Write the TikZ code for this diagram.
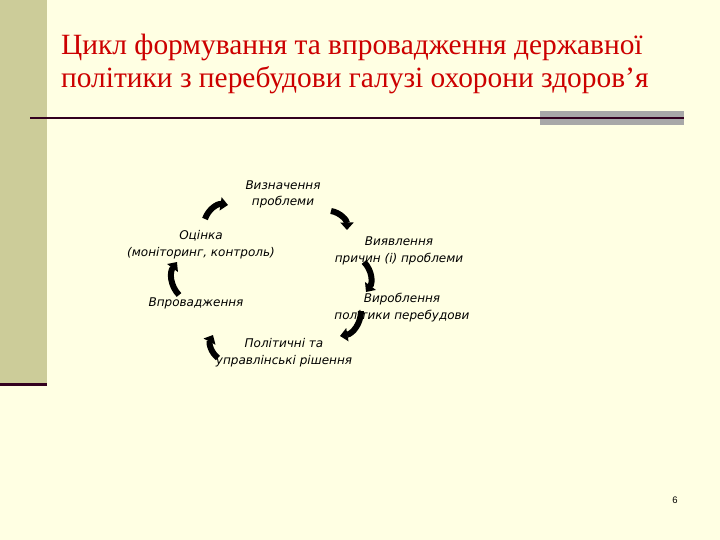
\documentclass[tikz,border=0pt]{standalone}
\usepackage{fontspec}
\setmainfont{Liberation Serif}
\newfontfamily\labelfont{DejaVu Sans}
\newfontfamily\numfont{Liberation Sans}
\usetikzlibrary{arrows.meta}
\definecolor{slideBg}{HTML}{FFFFE3}
\definecolor{bandColor}{HTML}{CCCC99}
\definecolor{ruleColor}{HTML}{33001F}
\definecolor{titleRed}{HTML}{CC0000}
\definecolor{blockGray}{HTML}{A8A8A8}
\tikzstyle{stepText} = [align=center, inner sep=0pt, font=\labelfont\itshape\fontsize{12}{16.5}\selectfont]
\tikzstyle{cycArrow} = [line width=6pt, -{Triangle[width=13pt,length=7.5pt]}]

\begin{document}
\begin{tikzpicture}[x=1pt, y=-1pt]
    \useasboundingbox (0,0) rectangle (720,540);
    \fill[slideBg] (0,0) rectangle (720,540);
    \fill[bandColor] (0,0) rectangle (47,383);
    \fill[ruleColor] (0,383) rectangle (47,386);
    \fill[blockGray] (540,111) rectangle (684,125);
    \draw[ruleColor, line width=2pt] (30,118) -- (684,118);

    % last line baseline is the base anchor
    \node[anchor=base west, align=left, inner sep=0pt, text=titleRed, font=\fontsize{29.4}{33}\selectfont] (title) at (61,88)
        {Цикл формування та впровадження державної\\політики з перебудови галузі охорони здоров’я};

    \node[stepText, anchor=base] (define) at (283,206) {Визначення\\проблеми};
    \node[stepText, anchor=base] (causes) at (399,262) {Виявлення\\причин (і) проблеми};
    \node[stepText, anchor=base] (policy) at (402,319) {Вироблення\\політики перебудови};
    \node[stepText, anchor=base] (decide) at (284,364) {Політичні та\\управлінські рішення};
    \node[stepText, anchor=base] (implement) at (196,306) {Впровадження};
    \node[stepText, anchor=base] (assess) at (201,256) {Оцінка\\(моніторинг, контроль)};

    \node[anchor=base, inner sep=0pt, font=\numfont\fontsize{9.5}{11}\selectfont] (pageNo) at (675,503) {6};

    % arrows of the cycle
    \coordinate (a1s) at (205,219);
    \coordinate (a1e) at (228,205);
    \coordinate (a2s) at (331,211);
    \coordinate (a2e) at (347,230);
    \coordinate (a3s) at (364,262);
    \coordinate (a3e) at (366,292);
    \coordinate (a4s) at (361,311);
    \coordinate (a4e) at (340,336);
    \coordinate (a5s) at (218,358);
    \coordinate (a5e) at (213,335);
    \coordinate (a6s) at (179,295);
    \coordinate (a6e) at (177,262);
    \draw[cycArrow] (a1s) to[bend left=40] (a1e);
    \draw[cycArrow] (a2s) to[bend left=40] (a2e);
    \draw[cycArrow] (a3s) to[bend left=40] (a3e);
    \draw[cycArrow] (a4s) to[bend left=40] (a4e);
    \draw[cycArrow] (a5s) to[bend left=40] (a5e);
    \draw[cycArrow] (a6s) to[bend left=40] (a6e);
\end{tikzpicture}
\end{document}
